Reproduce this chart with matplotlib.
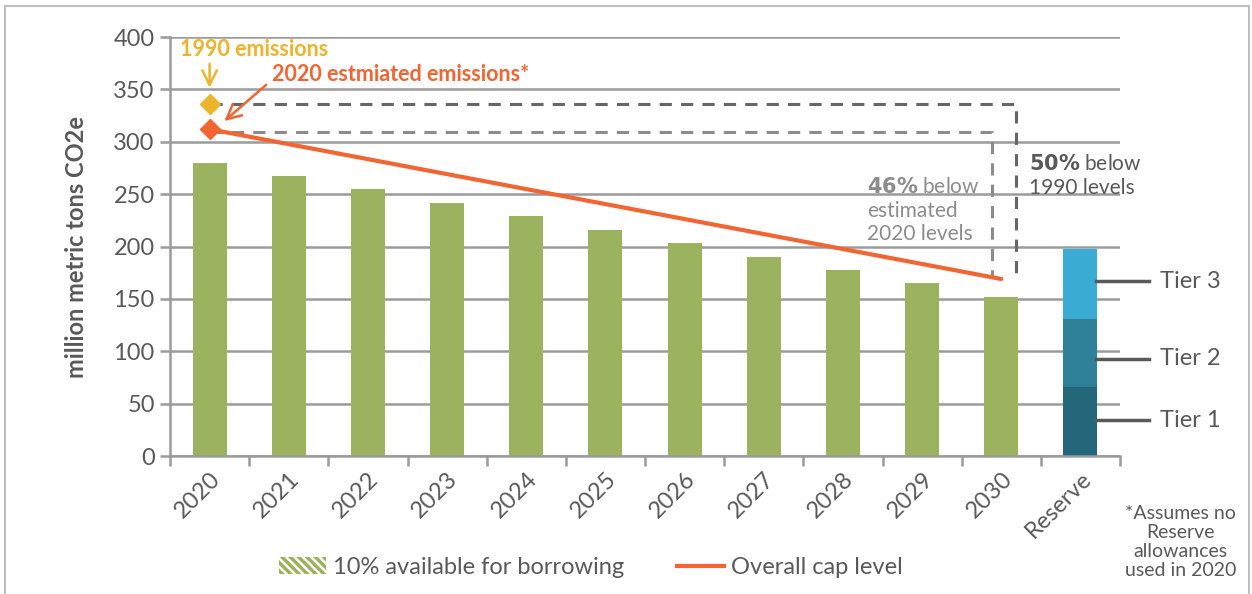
import numpy as np
import matplotlib
matplotlib.use("Agg")
import matplotlib.pyplot as plt
from matplotlib.patches import Patch, Rectangle
from matplotlib.lines import Line2D
from matplotlib.transforms import ScaledTranslation

plt.rcParams["font.family"] = ["Lato", "DejaVu Sans"]
plt.rcParams["hatch.linewidth"] = 2.5

# data
years = ["2020", "2021", "2022", "2023", "2024", "2025", "2026", "2027", "2028", "2029", "2030"]
cap_bars = [280, 267, 255, 242, 229, 216, 203, 190, 178, 165, 152]
reserve_label = "Reserve"
tiers = [66, 65, 67]
tier_names = ["Tier 1", "Tier 2", "Tier 3"]
cap_line = [312, 169]  # overall cap level, 2020 -> 2030
emis_1990 = 336
emis_2020 = 312

green = "#9BB25E"
orange = "#F26532"
gold = "#EDB32A"
tier_colors = ["#25677A", "#2E8199", "#3AABD3"]
grid_c = "#9A9A9A"
text_c = "#595959"

fig = plt.figure(figsize=(12.52, 5.94), dpi=100)
ax = fig.add_axes([0.1358, 0.2323, 0.7588, 0.7054])

x = np.arange(len(years))
ax.bar(x, cap_bars, width=0.43, color=green, zorder=2)

# reserve stacked bar
rx = len(years)
bottom = 0
for h, c in zip(tiers, tier_colors):
    ax.bar(rx, h, bottom=bottom, width=0.43, color=c, zorder=2)
    bottom += h

# cap line
ax.plot([0, len(years) - 1], cap_line, color=orange, lw=3, zorder=4,
        solid_capstyle="round")

# dashed reference lines
ax.plot([0, 10.19, 10.19], [emis_1990, emis_1990, 172], color="#666666",
        lw=2.2, ls=(0, (4, 3)), zorder=3)
ax.plot([0, 9.88, 9.88], [309, 309, 172], color="#8C8C8C",
        lw=2.2, ls=(0, (4, 3)), zorder=3)

# diamonds
ax.plot(0, emis_1990, marker="D", color=gold, ms=10, zorder=5)
ax.plot(0, emis_2020, marker="D", color=orange, ms=10, zorder=5)

ax.set_xlim(-0.5, 11.5)
ax.set_ylim(0, 400)
ax.set_yticks(np.arange(0, 401, 50))
ax.yaxis.grid(True, color=grid_c, lw=1.8, zorder=0)
ax.set_axisbelow(True)
for s in ["top", "right"]:
    ax.spines[s].set_visible(False)
for s in ["left", "bottom"]:
    ax.spines[s].set_color(grid_c)
    ax.spines[s].set_linewidth(1.8)

ax.set_xticks(list(x) + [rx])
ax.set_xticklabels(years + [reserve_label], rotation=45, ha="right",
                   rotation_mode="anchor", fontsize=17, color=text_c)
shift = ScaledTranslation(0.14, 0, fig.dpi_scale_trans)
for lab in ax.get_xticklabels():
    lab.set_transform(lab.get_transform() + shift)
ax.set_xticks(np.arange(-0.5, 12, 1), minor=True)
ax.tick_params(axis="x", which="major", length=0, pad=9)
ax.tick_params(axis="x", which="minor", length=7, width=1.8, color=grid_c)
ax.tick_params(axis="y", length=7, width=1.8, color=grid_c, labelsize=17,
               labelcolor=text_c, pad=4)
ax.set_ylabel("million metric tons CO2e", fontsize=17, fontweight="bold",
              color=text_c, labelpad=18)

# annotations
ax.text(-0.37, 388, "1990 emissions", color=gold, fontsize=15.5,
        fontweight="bold", va="center", ha="left")
ax.annotate("", xy=(0, 349), xytext=(0, 377),
            arrowprops=dict(arrowstyle="->", color=gold, lw=1.8,
                            mutation_scale=26))
ax.text(0.79, 364, "2020 estmiated emissions*", color=orange, fontsize=15.5,
        fontweight="bold", va="center", ha="left")
ax.annotate("", xy=(0.16, 318), xytext=(0.74, 356),
            arrowprops=dict(arrowstyle="->", color=orange, lw=1.8,
                            mutation_scale=26))

ax.text(8.3, 266, r"$\bf{46\%}$ below" + "\nestimated\n2020 levels",
        color="#8C8C8C", fontsize=15, va="top", ha="left", linespacing=1.2)
ax.text(10.35, 288, r"$\bf{50\%}$ below" + "\n1990 levels",
        color=text_c, fontsize=15, va="top", ha="left", linespacing=1.2)

# tier leaders
lead_y = [34, 93, 167]
for ly, name in zip(lead_y, tier_names):
    ax.plot([rx + 0.2, rx + 0.87], [ly, ly], color="#595959", lw=2.5,
            clip_on=False, zorder=3)
    ax.text(rx + 1.0, ly, name, fontsize=17, color=text_c, va="center",
            ha="left", clip_on=False)

# legend
handles = [Patch(facecolor="white", edgecolor=green, hatch="\\\\\\\\", lw=0),
           Line2D([0], [0], color=orange, lw=3)]
fig.legend(handles, ["10% available for borrowing", "Overall cap level"],
           loc="center", bbox_to_anchor=(0.472, 0.045), ncol=2, frameon=False,
           fontsize=17, labelcolor=text_c, handlelength=2.0, handletextpad=0.3,
           columnspacing=2.2)

fig.text(0.943, 0.088, "*Assumes no\nReserve\nallowances\nused in 2020",
         ha="center", va="center", fontsize=14, color=text_c,
         linespacing=1.15)

fig.patches.append(Rectangle((0.004, -0.01), 0.994, 1.0, transform=fig.transFigure,
                             fill=False, edgecolor="#BFBFBF", lw=1.5))

fig.savefig("out.png", dpi=100)
